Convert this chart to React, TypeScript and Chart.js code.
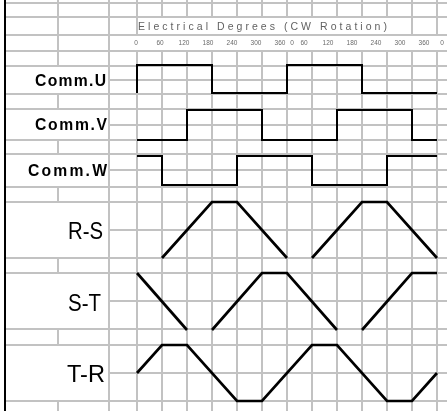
import React, { useEffect, useRef } from "react";
import { Chart, registerables } from "chart.js";

Chart.register(...registerables);

// ---------- data ----------
// Commutation sensor signals: transition points (electrical degrees) and levels (1 = high, 0 = low)
const uDegrees = [0, 0, 180, 360, 540, 720];
const commU = [0, 1, 0, 1, 0, 0];
const vDegrees = [0, 120, 300, 480, 660, 720];
const commV = [0, 1, 0, 1, 0, 0];
const wDegrees = [0, 60, 240, 420, 600, 720];
const commW = [1, 0, 1, 0, 1, 1];

// Back-EMF (line-to-line) trapezoids: breakpoints (degrees) and levels (0 = low, 1 = high)
const rsDegrees = [0, 60, 180, 240, 360, 420, 540, 600, 720];
const rsValues = [0, 0, 1, 1, 0, 0, 1, 1, 0];
const stDegrees = [0, 120, 180, 300, 360, 480, 540, 660, 720];
const stValues = [1, 0, 0, 1, 1, 0, 0, 1, 1];
const trDegrees = [0, 60, 120, 240, 300, 420, 480, 600, 660, 720];
const trValues = [0.5, 1, 1, 0, 0, 1, 1, 0, 0, 0.5];

const rowLabels = ["Comm.U", "Comm.V", "Comm.W", "R-S", "S-T", "T-R"];
const titleText = "Electrical Degrees (CW Rotation)";
const tickLabels = ["0", "60", "120", "180", "240", "300", "360", "0", "60", "120", "180", "240", "300", "360", "0"];
const tickDegrees = [0, 60, 120, 180, 240, 300, 360, 360, 420, 480, 540, 600, 660, 720, 720];

// ---------- layout (pixels / styling) ----------
const W = 447;
const H = 411;
const PX_PER_DEG = 25 / 60;
const X0 = 137; // pixel of 0 degrees
const GRID = "#c2c2c2";
// lanes: pixel y of the high and low level of each trace
const lanes = [
  { hi: 65, lo: 93 },
  { hi: 110, lo: 140 },
  { hi: 156, lo: 185 },
  { hi: 202, lo: 258 },
  { hi: 273, lo: 330 },
  { hi: 345, lo: 401 },
];
const labelBoxes = [
  { left: 35, right: 106, cy: 80, cap: 11, bold: true },
  { left: 35, right: 107, cy: 124, cap: 11, bold: true },
  { left: 28, right: 107, cy: 170, cap: 11, bold: true },
  { left: 68, right: 103, cy: 230, cap: 17, bold: false },
  { left: 68, right: 101, cy: 302, cap: 17, bold: false },
  { left: 67, right: 105, cy: 373, cap: 17, bold: false },
];
const tickNudge = [0, 0, 0, 0, 0, 0, 0, 12, 0, 0, 0, 0, 0, 0, 18];
const leftRowLines = [3, 17, 35, 51, 66, 94, 109, 140, 154, 187, 202, 258, 273, 329, 345, 401];
const halfRowLines = [80, 125, 170, 230, 301, 373];
const sepRows = [[0, 66], [94, 109], [140, 154], [187, 202], [258, 273], [329, 345], [401, 411]];

const FONT = "'Liberation Sans', Arial, sans-serif";

function lanePoints(deg: number[], vals: number[], lane: { hi: number; lo: number }) {
  return deg.map((d, i) => ({ x: d, y: lane.lo - vals[i] * (lane.lo - lane.hi), low: vals[i] === 0 }));
}

const sheetPlugin = {
  id: "sheet",
  beforeDatasetsDraw(chart: any) {
    const { ctx } = chart;
    const xs = chart.scales.x;
    const X = (d: number) => Math.round(xs.getPixelForValue(d));
    ctx.save();
    ctx.fillStyle = "#ffffff";
    ctx.fillRect(0, 0, W, H);
    ctx.strokeStyle = GRID;
    ctx.lineWidth = 2;
    const line = (x1: number, y1: number, x2: number, y2: number) => {
      ctx.beginPath();
      ctx.moveTo(x1, y1);
      ctx.lineTo(x2, y2);
      ctx.stroke();
    };
    leftRowLines.forEach((y) => line(5, y, W, y));
    halfRowLines.forEach((y) => line(109, y, W, y));
    sepRows.forEach(([a, b]) => line(58, a, 58, b));
    line(109, 0, 109, H);
    for (let d = 0; d <= 720; d += 60) {
      const x = X(d);
      line(x, 0, x, d === 0 || d >= 660 ? 35 : 17);
      line(x, 51, x, H);
    }
    ctx.strokeStyle = "#000";
    line(5, 0, 5, H);
    ctx.restore();
  },
  afterDatasetsDraw(chart: any) {
    const { ctx } = chart;
    ctx.save();
    ctx.fillStyle = "#000";
    rowLabels.forEach((t, i) => {
      const b = labelBoxes[i];
      ctx.letterSpacing = "0px";
      ctx.font = `${b.bold ? "bold " : ""}20px ${FONT}`;
      const m = ctx.measureText(t);
      const asc = m.actualBoundingBoxAscent;
      const sy = b.cap / asc;
      ctx.textAlign = "left";
      ctx.textBaseline = "alphabetic";
      if (b.bold) {
        const size = 20 * sy;
        ctx.font = `bold ${size}px ${FONT}`;
        const nat = ctx.measureText(t).width;
        const sp = Math.max(0, (b.right - b.left - nat) / (t.length - 1));
        ctx.letterSpacing = `${sp}px`;
        ctx.fillText(t, b.left, b.cy + b.cap / 2);
        ctx.letterSpacing = "0px";
      } else {
        const sx = (b.right - b.left) / m.width;
        ctx.save();
        ctx.translate(b.left, b.cy + b.cap / 2);
        ctx.scale(sx, sy);
        ctx.fillText(t, 0, 0);
        ctx.restore();
      }
    });
    // title
    ctx.fillStyle = "#626262";
    ctx.font = `10.5px ${FONT}`;
    ctx.letterSpacing = "0px";
    const nat = ctx.measureText(titleText).width;
    const sp = (249 - nat) / (titleText.length - 1);
    ctx.letterSpacing = `${sp}px`;
    ctx.textAlign = "left";
    ctx.textBaseline = "middle";
    ctx.fillText(titleText, 138, 27);
    ctx.letterSpacing = "0px";
    // tick labels
    ctx.fillStyle = "#6a6a6a";
    ctx.font = `6.5px ${FONT}`;
    ctx.textAlign = "center";
    tickLabels.forEach((t, i) => {
      const x = X0 - 1 + tickDegrees[i] * 0.4 + tickNudge[i];
      ctx.fillText(t, x, 43);
    });
    ctx.restore();
  },
};

const hideLowFlat = (ctx: any) =>
  ctx.p0.parsed.y === ctx.p1.parsed.y && ctx.p0.raw && ctx.p0.raw.low ? "rgba(0,0,0,0)" : undefined;

export default function App() {
  const ref = useRef<HTMLCanvasElement | null>(null);
  useEffect(() => {
    document.body.style.margin = "0";
    const canvas = ref.current!;
    const stepDs = (deg: number[], vals: number[], lane: { hi: number; lo: number }) => ({
      data: lanePoints(deg, vals, lane),
      borderColor: "#000",
      borderWidth: 2,
      stepped: true as const,
      pointRadius: 0,
      fill: false,
    });
    const trapDs = (deg: number[], vals: number[], lane: { hi: number; lo: number }, hideLow: boolean) => ({
      data: lanePoints(deg, vals, lane),
      borderColor: "#000",
      borderWidth: 2.7,
      pointRadius: 0,
      fill: false,
      tension: 0,
      segment: hideLow ? { borderColor: hideLowFlat } : undefined,
    });
    const chart = new Chart(canvas, {
      type: "line",
      data: {
        datasets: [
          stepDs(uDegrees, commU, lanes[0]),
          stepDs(vDegrees, commV, lanes[1]),
          stepDs(wDegrees, commW, lanes[2]),
          trapDs(rsDegrees, rsValues, lanes[3], true),
          trapDs(stDegrees, stValues, lanes[4], true),
          trapDs(trDegrees, trValues, lanes[5], false),
        ] as any,
      },
      options: {
        responsive: false,
        animation: false,
        devicePixelRatio: 1,
        layout: { padding: 0 },
        plugins: { legend: { display: false }, tooltip: { enabled: false }, title: { display: false } },
        scales: {
          x: { type: "linear", display: false, min: -X0 / PX_PER_DEG, max: (W - X0) / PX_PER_DEG },
          y: { type: "linear", display: false, min: 0, max: H, reverse: true },
        },
        elements: { line: { borderCapStyle: "butt", borderJoinStyle: "miter" } },
      },
      plugins: [sheetPlugin],
    });
    return () => chart.destroy();
  }, []);
  return (
    <div style={{ position: "fixed", left: 0, top: 0, width: W, height: H }}>
      <canvas ref={ref} width={W} height={H} style={{ display: "block" }} />
    </div>
  );
}
